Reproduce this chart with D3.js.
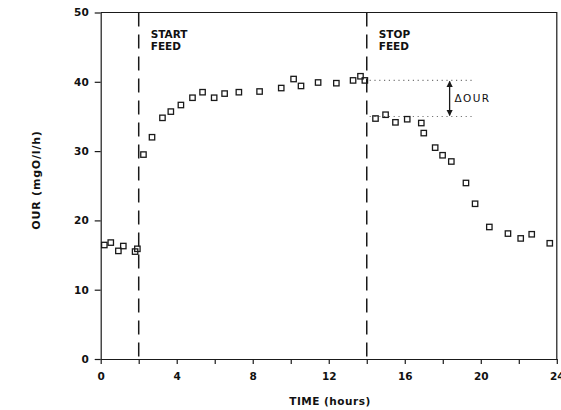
<!DOCTYPE html>
<html>
<head>
<meta charset="utf-8">
<script src="https://cdn.jsdelivr.net/npm/d3@7"></script>
<style>
  html, body { margin: 0; padding: 0; background: #fff; }
  svg { display: block; }
  text { font-family: "DejaVu Sans", sans-serif; fill: #111; }
</style>
</head>
<body>
<svg id="chart" width="561" height="410"></svg>
<script>
// Oxygen uptake rate over time, feed started at 2 h and stopped at 14 h
const timeHours = [0.19, 0.53, 0.93, 1.19, 1.81, 1.93, 2.25, 2.7, 3.25, 3.69, 4.22, 4.83, 5.36, 5.97,
  6.52, 7.27, 8.36, 9.5, 10.15, 10.54, 11.44, 12.4, 13.28, 13.67, 13.9, 14.46, 14.99, 15.51, 16.13,
  16.87, 17.0, 17.6, 17.99, 18.45, 19.22, 19.7, 20.45, 21.43, 22.1, 22.68, 23.63];
const ourValues = [16.45, 16.8, 15.6, 16.3, 15.5, 15.9, 29.5, 32.0, 34.8, 35.7, 36.65, 37.7, 38.5, 37.7,
  38.3, 38.5, 38.6, 39.1, 40.4, 39.4, 39.9, 39.8, 40.2, 40.8, 40.2, 34.7, 35.25, 34.15, 34.6,
  34.05, 32.6, 30.5, 29.4, 28.5, 25.4, 22.4, 19.05, 18.1, 17.4, 18.0, 16.7];

const xTicks = [0, 2, 4, 6, 8, 10, 12, 14, 16, 18, 20, 22, 24];
const xTickLabels = ["0", "", "4", "", "8", "", "12", "", "16", "", "20", "", "24"];
const yTicks = [0, 10, 20, 30, 40, 50];

const feedEvents = [2, 14];
const feedLabels = [["START", "FEED"], ["STOP", "FEED"]];

// Delta OUR annotation: level before and after the feed stop
const deltaLevels = [40.2, 35.0];
const deltaSpan = [14.15, 19.7];
const deltaArrowTime = 18.36;

const svg = d3.select("#chart");
const x = d3.scaleLinear().domain([0, 24]).range([100.7, 556.8]);
const y = d3.scaleLinear().domain([0, 50]).range([359, 12.5]);
const ink = "#1a1a1a";

// frame: top and right borders
svg.append("path")
  .attr("d", `M${x(0)},${y(50)}H${x(24)}V${y(0)}`)
  .attr("fill", "none").attr("stroke", ink).attr("stroke-width", 1.2);

// axes
const yAxis = svg.append("g")
  .attr("transform", `translate(${x(0)},0)`)
  .call(d3.axisLeft(y).tickValues(yTicks).tickSize(6).tickSizeOuter(0).tickPadding(6));
const xAxis = svg.append("g")
  .attr("transform", `translate(0,${y(0)})`)
  .call(d3.axisBottom(x).tickValues(xTicks).tickSize(5).tickSizeOuter(0).tickPadding(9)
    .tickFormat((d, i) => xTickLabels[i]));
[xAxis, yAxis].forEach(g => {
  g.select(".domain").attr("stroke", ink).attr("stroke-width", 1.2);
  g.selectAll(".tick line").attr("stroke", ink).attr("stroke-width", 1.2);
  g.selectAll(".tick text")
    .attr("fill", "#111").style("font-family", "DejaVu Sans, sans-serif")
    .style("font-size", "10.5px").style("font-weight", "bold");
});

// axis titles
svg.append("text")
  .attr("transform", "translate(40,180) rotate(-90)")
  .attr("text-anchor", "middle")
  .style("font-size", "11px").style("font-weight", "bold").style("letter-spacing", "0.8px")
  .text("OUR (mgO/l/h)");
svg.append("text")
  .attr("x", 330).attr("y", 405)
  .attr("text-anchor", "middle")
  .style("font-size", "10.5px").style("font-weight", "bold").style("letter-spacing", "0.5px")
  .text("TIME (hours)");

// feed start / stop markers
svg.selectAll("line.feed").data(feedEvents).join("line")
  .attr("class", "feed")
  .attr("x1", d => x(d)).attr("x2", d => x(d))
  .attr("y1", y(50)).attr("y2", y(0))
  .attr("stroke", ink).attr("stroke-width", 1.5)
  .attr("stroke-dasharray", "14,8");
feedEvents.forEach((t, i) => {
  const txt = svg.append("text")
    .attr("x", x(t) + 12).attr("y", 37.5)
    .style("font-size", "10.5px").style("font-weight", "bold");
  feedLabels[i].forEach((line, j) => {
    txt.append("tspan").attr("x", x(t) + 12).attr("y", 37.5 + j * 12.5).text(line);
  });
});

// delta OUR reference levels
svg.selectAll("line.level").data(deltaLevels).join("line")
  .attr("class", "level")
  .attr("x1", x(deltaSpan[0])).attr("x2", x(deltaSpan[1]))
  .attr("y1", d => y(d)).attr("y2", d => y(d))
  .attr("stroke", "#777").attr("stroke-width", 1.1)
  .attr("stroke-dasharray", "1.2,3.6");

// double-headed arrow between the levels
const defs = svg.append("defs");
defs.append("marker")
  .attr("id", "head").attr("viewBox", "0 0 10 10")
  .attr("refX", 9).attr("refY", 5)
  .attr("markerWidth", 5).attr("markerHeight", 5)
  .attr("orient", "auto-start-reverse")
  .append("path").attr("d", "M0,0L10,5L0,10Z").attr("fill", ink);
svg.append("line")
  .attr("x1", x(deltaArrowTime)).attr("x2", x(deltaArrowTime))
  .attr("y1", y(deltaLevels[0]) + 1).attr("y2", y(deltaLevels[1]) - 1)
  .attr("stroke", ink).attr("stroke-width", 1.3)
  .attr("marker-start", "url(#head)").attr("marker-end", "url(#head)");
svg.append("text")
  .attr("x", x(deltaArrowTime) + 5).attr("y", y((deltaLevels[0] + deltaLevels[1]) / 2) + 3.8)
  .style("font-size", "10.5px").style("font-weight", "500").style("letter-spacing", "1.3px")
  .text("\u0394OUR");

// measurements as open squares
const pts = timeHours.map((t, i) => [t, ourValues[i]]);
svg.selectAll("rect.pt").data(pts).join("rect")
  .attr("class", "pt")
  .attr("x", d => x(d[0]) - 2.7).attr("y", d => y(d[1]) - 2.7)
  .attr("width", 5.4).attr("height", 5.4)
  .attr("fill", "none").attr("stroke", ink).attr("stroke-width", 1.3);
</script>
</body>
</html>
